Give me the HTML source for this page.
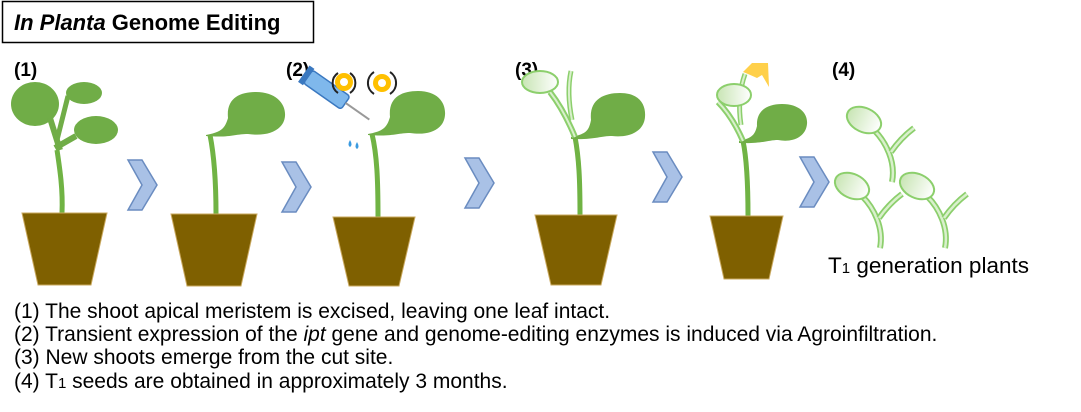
<!DOCTYPE html>
<html><head><meta charset="utf-8"><style>
html,body{margin:0;padding:0;background:#fff;}
svg{display:block;font-family:"Liberation Sans",Arial,sans-serif;}
</style></head><body>
<svg width="1081" height="412" viewBox="0 0 1081 412" xmlns="http://www.w3.org/2000/svg">
<defs>
<linearGradient id="lg" x1="0" y1="0" x2="1" y2="0"><stop offset="0" stop-color="#c8e5b4"/><stop offset="1" stop-color="#ffffff"/></linearGradient>
<g id="chev"><polygon points="0,0 14,0 29,25 14,50 0,50 14,25" fill="#a9c1e6" stroke="#6a8cc0" stroke-width="1.5"/></g>
<g id="seed"><path d="M0,0 C4,-20 -6,-40 -18,-52" fill="none" stroke="#8ccf6c" stroke-width="6"/><path d="M0,0 C4,-20 -6,-40 -18,-52" fill="none" stroke="#d9f0cc" stroke-width="2.5"/>
<path d="M-1,-30 C6,-40 14,-48 22,-54" fill="none" stroke="#8ccf6c" stroke-width="6"/><path d="M-1,-30 C6,-40 14,-48 22,-54" fill="none" stroke="#d9f0cc" stroke-width="2.5"/>
<ellipse cx="-28" cy="-62" rx="18" ry="12" transform="rotate(25 -28 -62)" fill="url(#lg)" stroke="#8ccf6c" stroke-width="2"/></g>
</defs>
<rect x="2.5" y="1.5" width="311" height="41" fill="#fff" stroke="#000" stroke-width="1.5"/>
<text x="14" y="30" font-size="22" font-weight="bold"><tspan font-style="italic">In Planta</tspan> Genome Editing</text>
<g font-size="19" font-weight="bold"><text x="14" y="76">(1)</text><text x="286" y="76">(2)</text><text x="515" y="76">(3)</text><text x="832" y="76">(4)</text></g>

<!-- plant 1 -->
<path d="M62,213 C63,190 60,170 57,150" stroke="#70b344" stroke-width="5" fill="none"/>
<ellipse cx="35" cy="104" rx="24" ry="22" fill="#70ad47"/>
<path d="M50,118 L60,150" stroke="#70ad47" stroke-width="6"/>
<ellipse cx="84" cy="93" rx="18" ry="11" fill="#70ad47"/>
<path d="M68,96 L57,140" stroke="#70ad47" stroke-width="5"/>
<ellipse cx="96" cy="130" rx="22" ry="14" fill="#70ad47"/>
<path d="M76,136 L55,148" stroke="#70ad47" stroke-width="6"/>
<polygon points="22,213 107,213 91,285 38,285" fill="#7f6000" stroke="#c9a85e" stroke-width="1"/>
<use href="#chev" x="128" y="160"/>

<!-- plant 2 -->
<path d="M216,214 C216,180 214,155 210,135" stroke="#70b344" stroke-width="5" fill="none"/>
<path d="M206,135 C222,132 225,128 228,118 C226,98 240,92 256,92 C276,92 286,104 285,116 C284,130 268,137 248,134 C235,134 230,138 206,136Z" fill="#70ad47"/>
<polygon points="171,214 257,214 241,286 187,286" fill="#7f6000" stroke="#c9a85e" stroke-width="1"/>
<use href="#chev" x="282" y="162"/>

<!-- plant 3 -->
<path d="M378,217 C378,180 377,155 372,134" stroke="#70b344" stroke-width="5" fill="none"/>
<path d="M368,134 C384,131 387,127 390,117 C388,97 402,91 418,91 C438,91 446,103 445,115 C444,129 430,136 410,133 C397,133 392,137 368,135Z" fill="#70ad47"/>
<polygon points="333,217 415,217 399,286 349,286" fill="#7f6000" stroke="#c9a85e" stroke-width="1"/>
<g transform="rotate(35 330 92)"><rect x="303" y="84" width="46" height="16" rx="3" fill="#7fb8ec" stroke="#3a78c0" stroke-width="1.5"/><line x1="349" y1="92" x2="378" y2="92" stroke="#999" stroke-width="2"/><rect x="298" y="82" width="6" height="20" fill="#3a78c0"/></g>
<path d="M350,140 q-3,5 0,7 q3,-2 0,-7z M357,142 q-3,5 0,7 q3,-2 0,-7z" fill="#3a9ae0"/>
<circle cx="344" cy="82" r="9" fill="#ffc000"/><circle cx="344" cy="82" r="4" fill="#fff"/>
<path d="M338,73 a12,12 0 0 0 0,20 M350,73 a12,12 0 0 1 0,20" fill="none" stroke="#222" stroke-width="2"/>
<circle cx="382" cy="83" r="9" fill="#ffc000"/><circle cx="382" cy="83" r="4" fill="#fff"/>
<path d="M374,72 a13,13 0 0 0 0,22 M390,72 a13,13 0 0 1 0,22" fill="none" stroke="#222" stroke-width="2"/>
<use href="#chev" x="465" y="158"/>

<!-- plant 4 -->
<path d="M580,215 C580,180 579,158 575,137" stroke="#70b344" stroke-width="5" fill="none"/>
<path d="M571,137 C587,134 589,130 591,120 C589,100 603,93 620,93 C640,93 646,105 645,117 C644,131 630,138 612,136 C600,136 594,140 571,139Z" fill="#70ad47"/>
<path d="M575,137 C568,120 560,105 550,92" stroke="#8ccf6c" stroke-width="6" fill="none"/><path d="M575,137 C568,120 560,105 550,92" stroke="#d9f0cc" stroke-width="2" fill="none"/>
<path d="M572,120 C568,100 568,85 571,71" stroke="#8ccf6c" stroke-width="5" fill="none"/><path d="M572,120 C568,100 568,85 571,71" stroke="#d9f0cc" stroke-width="2" fill="none"/>
<ellipse cx="540" cy="82" rx="18" ry="11" fill="url(#lg)" stroke="#8ccf6c" stroke-width="2"/>
<polygon points="535,215 617,215 601,285 551,285" fill="#7f6000" stroke="#c9a85e" stroke-width="1"/>
<use href="#chev" x="653" y="152"/>

<!-- plant 5 -->
<path d="M748,216 C748,185 747,160 743,141" stroke="#70b344" stroke-width="5" fill="none"/>
<path d="M739,141 C753,138 755,134 757,126 C756,110 768,104 782,104 C800,104 808,114 807,124 C806,136 794,143 778,140 C768,140 762,144 739,143Z" fill="#70ad47"/>
<path d="M743,141 C736,125 728,112 718,102" stroke="#8ccf6c" stroke-width="6" fill="none"/><path d="M743,141 C736,125 728,112 718,102" stroke="#d9f0cc" stroke-width="2" fill="none"/>
<path d="M741,125 C738,105 740,88 745,74" stroke="#8ccf6c" stroke-width="5" fill="none"/><path d="M741,125 C738,105 740,88 745,74" stroke="#d9f0cc" stroke-width="2" fill="none"/>
<ellipse cx="734" cy="95" rx="17" ry="11" fill="url(#lg)" stroke="#8ccf6c" stroke-width="2"/>
<polygon points="743,72 752,63 768,63 769,87 762,75 757,78 748,74" fill="#ffd04a"/>
<polygon points="710,216 783,216 769,279 724,279" fill="#7f6000" stroke="#c9a85e" stroke-width="1"/>
<use href="#chev" x="800" y="157"/>

<!-- seedlings -->
<use href="#seed" x="892" y="182"/>
<use href="#seed" x="880" y="248"/>
<use href="#seed" x="945" y="248"/>
<text x="828" y="273" font-size="22.5">T<tspan font-size="15">1</tspan> generation plants</text>

<g font-size="21">
<text x="14" y="318">(1) The shoot apical meristem is excised, leaving one leaf intact.</text>
<text x="14" y="341">(2) Transient expression of the <tspan font-style="italic">ipt</tspan> gene and genome-editing enzymes is induced via Agroinfiltration.</text>
<text x="14" y="364">(3) New shoots emerge from the cut site.</text>
<text x="14" y="388">(4) T<tspan font-size="15">1</tspan> seeds are obtained in approximately 3 months.</text>
</g>
</svg>
</body></html>
